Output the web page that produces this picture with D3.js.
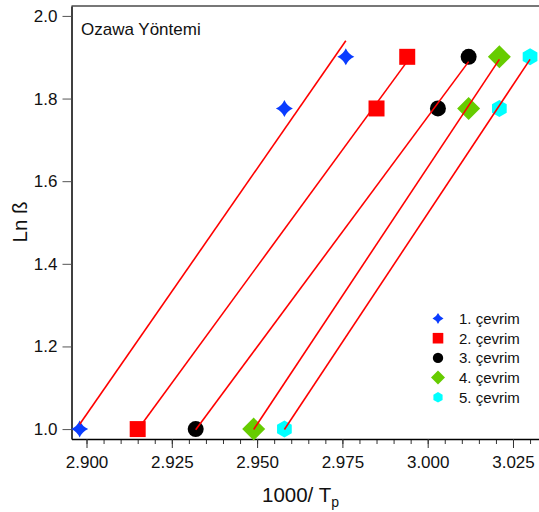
<!DOCTYPE html>
<html>
<head>
<meta charset="utf-8">
<script src="https://cdn.jsdelivr.net/npm/d3@7"></script>
<style>
  body { margin: 0; background: #fff; }
  svg { display: block; font-family: "Liberation Sans", Arial, sans-serif; }
</style>
</head>
<body>
<div id="chart"></div>
<script>
// Ozawa plot: ln(beta) vs 1000/Tp for five cycles
const cycleLabels = ['1. çevrim', '2. çevrim', '3. çevrim', '4. çevrim', '5. çevrim'];
const lnBeta = [1.0, 1.776, 1.901];
const cycle1 = [2.898, 2.958, 2.976];
const cycle2 = [2.915, 2.985, 2.994];
const cycle3 = [2.932, 3.003, 3.012];
const cycle4 = [2.949, 3.012, 3.021];
const cycle5 = [2.958, 3.021, 3.030];
const xTicks = [2.900, 2.925, 2.950, 2.975, 3.000, 3.025];
const yTicks = [1.0, 1.2, 1.4, 1.6, 1.8, 2.0];

const seriesX = [cycle1, cycle2, cycle3, cycle4, cycle5];
const colors = ['#0a3cff', '#ff0000', '#000000', '#66cc00', '#00ffff'];
const shapes = ['star', 'square', 'circle', 'diamond', 'hexagon'];

const W = 539, H = 512;
const plot = { left: 71.5, top: 6, right: 542, bottom: 439 };

const svg = d3.select('#chart').append('svg')
  .attr('width', W).attr('height', H);

const x = d3.scaleLinear().domain([2.8956, 3.0335]).range([plot.left, plot.right]);
const y = d3.scaleLinear().domain([0.976, 2.024]).range([plot.bottom, plot.top]);

// marker path for a shape with a given "radius"
function markerPath(shape, r) {
  if (shape === 'circle') return d3.symbol(d3.symbolCircle, Math.PI * r * r)();
  if (shape === 'square') return `M${-r},${-r}H${r}V${r}H${-r}Z`;
  if (shape === 'diamond') return `M0,${-r}L${r},0L0,${r}L${-r},0Z`;
  if (shape === 'hexagon') {
    const pts = d3.range(6).map(i => {
      const a = Math.PI / 3 * i - Math.PI / 2;
      return [r * Math.cos(a), r * Math.sin(a)];
    });
    return 'M' + pts.join('L') + 'Z';
  }
  // 4 point star with curved sides
  const k = r * 0.3;
  return `M0,${-r}Q${k},${-k} ${r},0Q${k},${k} 0,${r}Q${-k},${k} ${-r},0Q${-k},${-k} 0,${-r}Z`;
}
const markerSize = { star: 8.5, square: 8, circle: 8, diamond: 11.5, hexagon: 8.5 };
const legendSize = { star: 5.5, square: 5.3, circle: 5.2, diamond: 7, hexagon: 5.3 };

// top frame line
svg.append('line')
  .attr('x1', plot.left).attr('x2', W + 5).attr('y1', plot.top).attr('y2', plot.top)
  .attr('stroke', '#777').attr('stroke-width', 1.8);

// x axis: minor ticks then major
const xMinor = d3.range(2.900, 3.0335, 0.005);
svg.append('g')
  .attr('transform', `translate(0,${plot.bottom})`)
  .call(d3.axisBottom(x).tickValues(xMinor).tickSize(5).tickFormat(''))
  .call(g => g.select('.domain').remove())
  .call(g => g.selectAll('line').attr('stroke', '#333'));

svg.append('g')
  .attr('transform', `translate(0,${plot.bottom})`)
  .call(d3.axisBottom(x).tickValues(xTicks).tickSize(9).tickSizeOuter(0).tickPadding(8)
    .tickFormat(d3.format('.3f')))
  .call(g => g.select('.domain').attr('stroke', '#000').attr('stroke-width', 1.5))
  .call(g => g.selectAll('line').attr('stroke', '#333'))
  .call(g => g.selectAll('text').attr('font-size', 17).attr('fill', '#111')
    .attr('font-family', '"Liberation Sans", Arial, sans-serif'));

// y axis
svg.append('g')
  .attr('transform', `translate(${plot.left},0)`)
  .call(d3.axisLeft(y).tickValues(yTicks).tickSize(9).tickSizeOuter(0).tickPadding(5)
    .tickFormat(d3.format('.1f')))
  .call(g => g.select('.domain').attr('stroke', '#000').attr('stroke-width', 1.5))
  .call(g => g.selectAll('line').attr('stroke', '#555'))
  .call(g => g.selectAll('text').attr('font-size', 17).attr('fill', '#111')
    .attr('font-family', '"Liberation Sans", Arial, sans-serif'));

// axis titles
const xTitle = svg.append('text')
  .attr('x', 262).attr('y', 502)
  .attr('font-size', 20.5).attr('fill', '#111');
xTitle.append('tspan').text('1000/ T');
xTitle.append('tspan').attr('dy', 5).attr('font-size', 14).text('p');

svg.append('text')
  .attr('transform', `translate(27,222) rotate(-90)`)
  .attr('text-anchor', 'middle')
  .attr('font-size', 20.5).attr('fill', '#111')
  .text('Ln ß');

svg.append('text')
  .attr('x', 81).attr('y', 35)
  .attr('font-size', 17).attr('fill', '#111')
  .text('Ozawa Yöntemi');

// points
seriesX.forEach((xs, i) => {
  svg.append('g').selectAll('path')
    .data(xs.map((v, j) => ({ x: v, y: lnBeta[j] })))
    .join('path')
    .attr('transform', d => `translate(${x(d.x)},${y(d.y)})`)
    .attr('d', markerPath(shapes[i], markerSize[shapes[i]]))
    .attr('fill', colors[i]);
});

// least-squares fit lines, drawn over the data range
seriesX.forEach(xs => {
  const mx = d3.mean(xs), my = d3.mean(lnBeta);
  const sxy = d3.sum(xs, (v, j) => (v - mx) * (lnBeta[j] - my));
  const sxx = d3.sum(xs, v => (v - mx) * (v - mx));
  const slope = sxy / sxx;
  const [x0, x1] = d3.extent(xs);
  svg.append('line')
    .attr('x1', x(x0)).attr('y1', y(my + slope * (x0 - mx)))
    .attr('x2', x(x1)).attr('y2', y(my + slope * (x1 - mx)))
    .attr('stroke', '#ff0000').attr('stroke-width', 1.6);
});

// legend
const legend = svg.append('g');
cycleLabels.forEach((label, i) => {
  const cy = 318.5 + i * 19.7;
  legend.append('path')
    .attr('transform', `translate(438,${cy})`)
    .attr('d', markerPath(shapes[i], legendSize[shapes[i]]))
    .attr('fill', colors[i]);
  legend.append('text')
    .attr('x', 459).attr('y', cy + 5.5)
    .attr('font-size', 15).attr('fill', '#111')
    .text(label);
});
</script>
</body>
</html>
